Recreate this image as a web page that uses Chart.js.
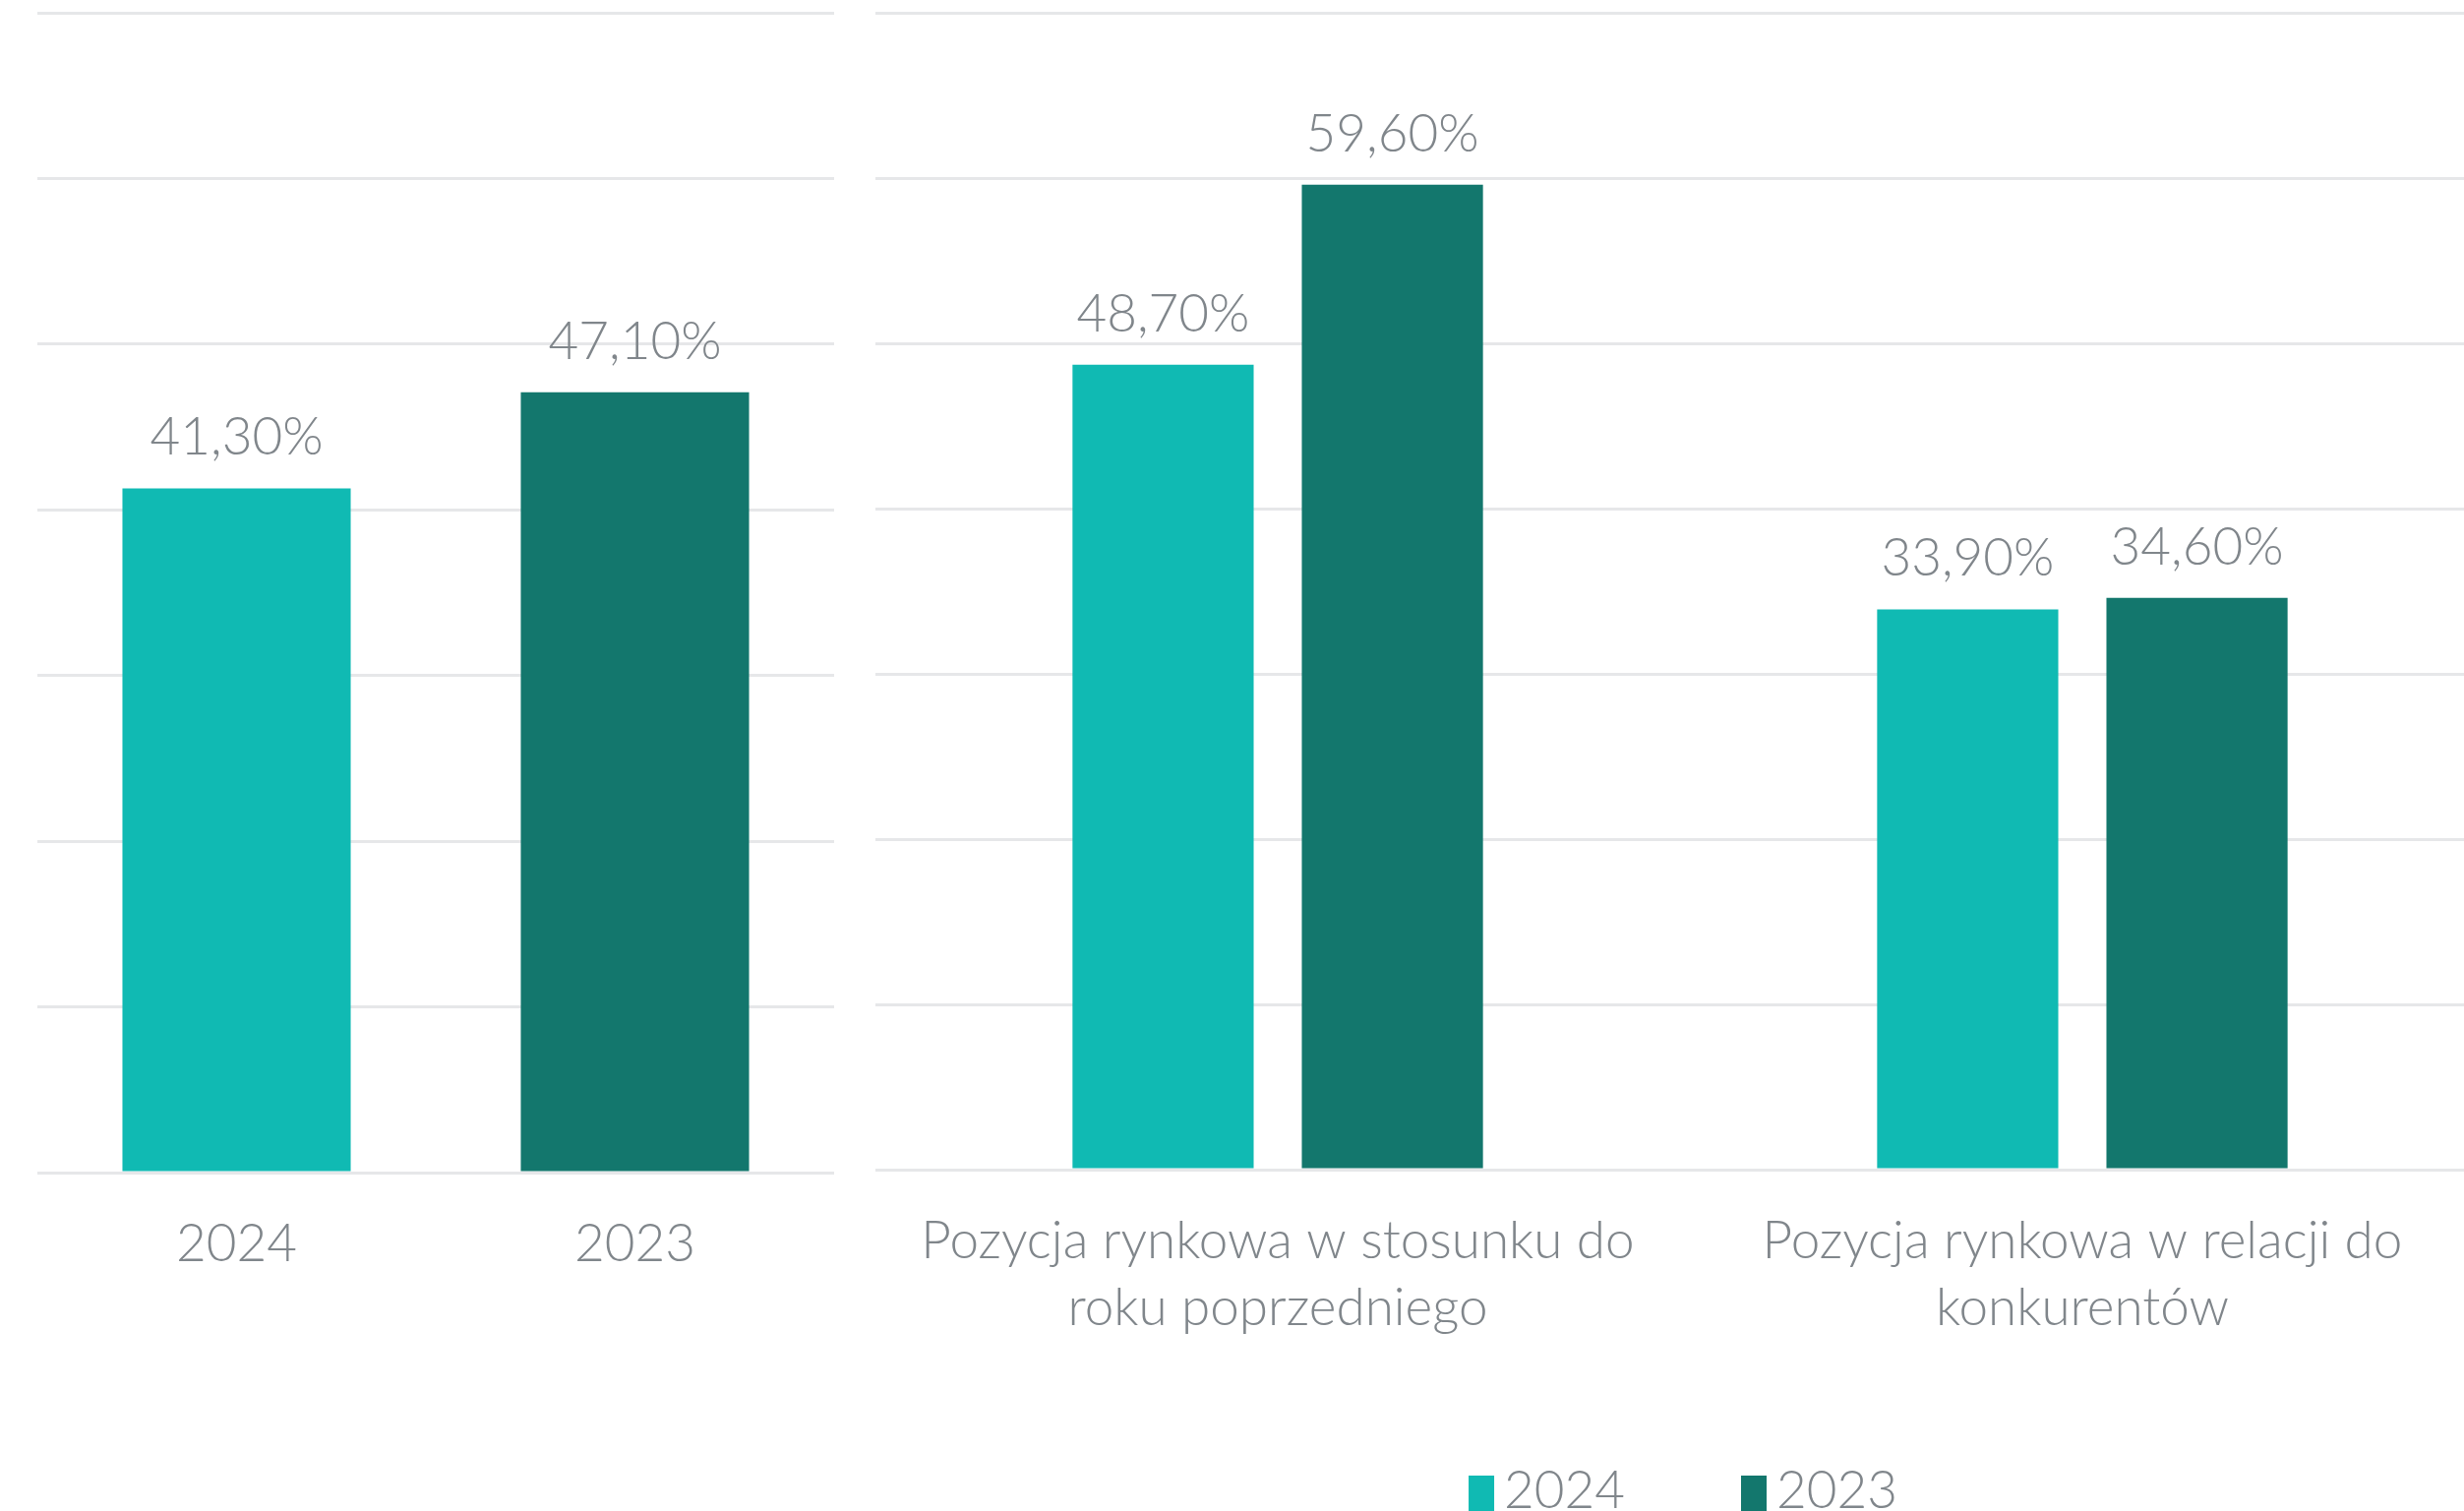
<!DOCTYPE html>
<html lang="pl">
<head>
<meta charset="utf-8">
<title>Pozycja rynkowa</title>
<script src="https://cdn.jsdelivr.net/npm/chart.js@4.4.1/dist/chart.umd.min.js"></script>
<style>
  html, body { margin: 0; padding: 0; background: #fff; }
  body { width: 2505px; height: 1536px; overflow: hidden; position: relative; }
  .box { position: absolute; top: 0; height: 1536px; }
  #left { left: 0; width: 880px; }
  #right { left: 860px; width: 1680px; }
</style>
</head>
<body>
<div class="box" id="left"><canvas id="chartLeft"></canvas></div>
<div class="box" id="right"><canvas id="chartRight"></canvas></div>
<script>
// series (legend) and their colours
const seriesNames = ['2024', '2023'];
const seriesColors = ['#10bab3', '#13776d'];

// left chart: one bar per year
const yearLabels = ['2024', '2023'];
const yearValues = [41.3, 47.1];

// right chart: two groups, one bar per year
const positionLabels = [
  ['Pozycja rynkowa w stosunku do', 'roku poprzedniego'],
  ['Pozycja rynkowa w relacji do', 'konkurentów']
];
const values2024 = [48.7, 33.9];
const values2023 = [59.6, 34.6];

const yMax = 70;
const yStep = 10;

const textColor = '#80868b';
const gridColor = '#e6e7e9';
const fontFamily = 'Lato';
const fontSize = 53;
const fontWeight = '300';

Chart.defaults.font.family = fontFamily;
Chart.defaults.font.weight = fontWeight;
Chart.defaults.color = textColor;

const formatPct = v => v.toFixed(2).replace('.', ',') + '%';

// draws the value above every bar
const valueLabels = {
  id: 'valueLabels',
  afterDatasetsDraw(chart) {
    const ctx = chart.ctx;
    ctx.save();
    ctx.font = `${fontWeight} ${fontSize}px ${fontFamily}`;
    ctx.fillStyle = textColor;
    ctx.textAlign = 'center';
    ctx.textBaseline = 'alphabetic';
    chart.data.datasets.forEach((ds, i) => {
      chart.getDatasetMeta(i).data.forEach((bar, j) => {
        ctx.fillText(formatPct(ds.data[j]), bar.x, bar.y - 34);
      });
    });
    ctx.restore();
  }
};

// legend under the right chart, small square + label, tight spacing
const bottomLegend = {
  id: 'bottomLegend',
  afterDraw(chart) {
    const ctx = chart.ctx;
    ctx.save();
    ctx.font = `${fontWeight} ${fontSize}px ${fontFamily}`;
    ctx.textBaseline = 'alphabetic';
    ctx.textAlign = 'left';
    const boxW = 26, boxH = 36, textGap = 10, itemGap = 118;
    const widths = seriesNames.map(n => ctx.measureText(n).width);
    const total = widths.reduce((s, w) => s + boxW + textGap + w, 0) + itemGap * (seriesNames.length - 1);
    let x = (chart.chartArea.left + chart.chartArea.right) / 2 + 3 - total / 2;
    const baseY = chart.height - 3;
    seriesNames.forEach((name, i) => {
      ctx.fillStyle = seriesColors[i];
      ctx.fillRect(x, baseY - 33, boxW, boxH);
      ctx.fillStyle = textColor;
      ctx.fillText(name, x + boxW + textGap, baseY);
      x += boxW + textGap + widths[i] + itemGap;
    });
    ctx.restore();
  }
};

function makeScales(axisHeight) {
  return {
    x: {
      grid: { display: false },
      border: { display: false },
      ticks: {
        color: textColor,
        padding: 31,
        maxRotation: 0,
        autoSkip: false,
        font: { size: fontSize, weight: fontWeight, lineHeight: 68 / fontSize }
      },
      afterFit(scale) { scale.height = axisHeight; }
    },
    y: {
      min: 0,
      max: yMax,
      border: { display: false },
      grid: { color: gridColor, lineWidth: 3, drawTicks: false },
      ticks: { display: false, stepSize: yStep },
      afterFit(scale) { scale.width = 0; }
    }
  };
}

new Chart(document.getElementById('chartLeft'), {
  type: 'bar',
  data: {
    labels: yearLabels,
    datasets: [{
      data: yearValues,
      backgroundColor: yearLabels.map(y => seriesColors[seriesNames.indexOf(y)]),
      borderWidth: 0,
      barPercentage: 0.573,
      categoryPercentage: 1
    }]
  },
  options: {
    responsive: true,
    maintainAspectRatio: false,
    animation: false,
    layout: { padding: { left: 38, right: 32, top: 13, bottom: 0 } },
    plugins: { legend: { display: false }, tooltip: { enabled: false } },
    scales: makeScales(344)
  },
  plugins: [valueLabels]
});

new Chart(document.getElementById('chartRight'), {
  type: 'bar',
  data: {
    labels: positionLabels,
    datasets: [
      { label: seriesNames[0], data: values2024, backgroundColor: seriesColors[0] },
      { label: seriesNames[1], data: values2023, backgroundColor: seriesColors[1] }
    ].map(ds => Object.assign(ds, { borderWidth: 0, barPercentage: 0.79, categoryPercentage: 0.57 }))
  },
  options: {
    responsive: true,
    maintainAspectRatio: false,
    animation: false,
    layout: { padding: { left: 30, right: 14, top: 13, bottom: 0 } },
    plugins: { legend: { display: false }, tooltip: { enabled: false } },
    scales: makeScales(347)
  },
  plugins: [valueLabels, bottomLegend]
});
</script>
</body>
</html>
